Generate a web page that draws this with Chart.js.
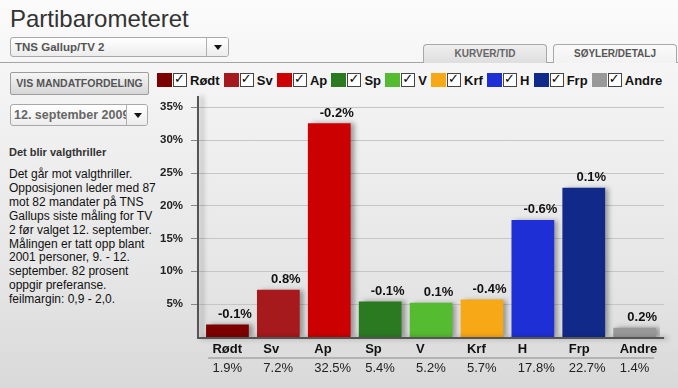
<!DOCTYPE html>
<html>
<head>
<meta charset="utf-8">
<script src="https://cdn.jsdelivr.net/npm/chart.js@4"></script>
<style>
  html, body { margin: 0; padding: 0; }
  body {
    width: 678px; height: 388px; overflow: hidden; position: relative;
    font-family: 'Liberation Sans', Arial, sans-serif;
    background: linear-gradient(#fbfbfb 0%, #f1f1f1 30%, #e6e6e6 70%, #d9d9d9 100%);
  }
  .abs { position: absolute; }
  h1 { margin: 0; left: 10px; top: 5px; font-size: 24px; line-height: 28px; font-weight: normal; color: #333; }
  .select {
    box-sizing: border-box; border: 1px solid #a8a8a8; border-radius: 3px;
    background: linear-gradient(#ffffff, #ececec); overflow: hidden;
    font-weight: bold; color: #555; white-space: nowrap;
  }
  .select .arrow {
    position: absolute; right: 0; top: 0; bottom: 0; width: 21px;
    border-left: 1px solid #b0b0b0; background: linear-gradient(#ffffff, #ececec);
  }
  .select .arrow::after {
    content: ''; position: absolute; left: 7px; top: 50%; margin-top: -2px;
    border-left: 4px solid transparent; border-right: 4px solid transparent; border-top: 5px solid #111;
  }
  .rule { left: 0; top: 62px; width: 678px; height: 1px; background: #a4a4a4; }
  .tab {
    box-sizing: border-box; height: 19px; border: 1px solid #a8a8a8; border-bottom: none;
    border-radius: 4px 4px 0 0; text-align: center; line-height: 18px;
    font-size: 10px; font-weight: bold; color: #666;
  }
  .btn {
    box-sizing: border-box; left: 10px; top: 72px; width: 139px; height: 23px;
    border: 1px solid #9c9c9c; border-radius: 2px; background: linear-gradient(#f6f6f6, #d6d6d6);
    font-size: 10.5px; font-weight: bold; color: #555; text-align: center; line-height: 21px;
  }
  .legend { left: 157px; top: 73px; display: flex; align-items: center; height: 14px; }
  .legend .sw { width: 15px; height: 14px; margin-right: 1px; }
  .legend .cb {
    box-sizing: border-box; width: 14px; height: 14px; border: 1px solid #444; background: #fff;
    margin-right: 3px; position: relative;
  }
  .legend .cb::after {
    content: '\2713'; position: absolute; left: 0px; top: -2px;
    font: bold 13px 'DejaVu Sans', sans-serif; color: #000; line-height: 14px;
  }
  .legend .nm { font-size: 13px; font-weight: bold; color: #111; margin-right: 4.2px; }
  .headline { left: 9px; top: 146px; font-size: 11px; font-weight: bold; color: #333; }
  .text { left: 9px; top: 168px; font-size: 12px; line-height: 13.9px; color: #111; }
  #wrap { left: 150px; top: 90px; width: 528px; height: 298px; }
</style>
</head>
<body>
<h1 class="abs">Partibarometeret</h1>
<div class="abs select" style="left:10px;top:37px;width:219px;height:20px;font-size:11.5px;line-height:18px;padding-left:4px;">
  TNS Gallup/TV 2<span class="arrow"></span>
</div>
<div class="abs rule"></div>
<div class="abs tab" style="left:423px;top:44px;width:124px;background:linear-gradient(#efefef,#dedede);">KURVER/TID</div>
<div class="abs tab" style="left:553px;top:44px;width:124px;background:linear-gradient(#fafafa,#f2f2f2);color:#555;">SØYLER/DETALJ</div>

<div class="abs btn">VIS MANDATFORDELING</div>
<div class="abs select" style="left:10px;top:104px;width:138px;height:22px;font-size:12.5px;line-height:20px;padding-left:3px;color:#666;">
  12. september 2009<span class="arrow" style="width:20px;"></span>
</div>

<div class="abs legend" id="legend"></div>

<div class="abs headline">Det blir valgthriller</div>
<div class="abs text">Det går mot valgthriller.<br>Opposisjonen leder med 87<br>mot 82 mandater på TNS<br>Gallups siste måling for TV<br>2 før valget 12. september.<br>Målingen er tatt opp blant<br>2001 personer, 9. - 12.<br>september. 82 prosent<br>oppgir preferanse.<br>feilmargin: 0,9 - 2,0.</div>

<div class="abs" id="wrap"><canvas id="chart" width="528" height="298"></canvas></div>

<script>
const PARTIES = ['Rødt', 'Sv', 'Ap', 'Sp', 'V', 'Krf', 'H', 'Frp', 'Andre'];
const SHARES  = [1.9, 7.2, 32.5, 5.4, 5.2, 5.7, 17.8, 22.7, 1.4];
const CHANGES = ['-0.1', '0.8', '-0.2', '-0.1', '0.1', '-0.4', '-0.6', '0.1', '0.2'];
const COLORS  = ['#7d0000', '#a6191d', '#cc0000', '#2b7a22', '#55bb30', '#f6a816', '#1f2fd6', '#112a8a', '#999999'];
const Y_TICKS = [5, 10, 15, 20, 25, 30, 35];

const FONT = "'Liberation Sans', Arial, sans-serif";
const AXIS_OUT = 4;   // axis lines reach a little past the bar area

// legend with checkboxes
const legend = document.getElementById('legend');
PARTIES.forEach((p, i) => {
  legend.insertAdjacentHTML('beforeend',
    `<span class="sw" style="background:${COLORS[i]}"></span><span class="cb"></span><span class="nm">${p}</span>`);
});

const fmt = v => v.toFixed(1) + '%';

// grid lines, tick marks and axes
const frame = {
  id: 'frame',
  beforeDatasetsDraw(chart) {
    const c = chart.ctx, a = chart.chartArea, y = chart.scales.y;
    const l = a.left - AXIS_OUT, r = a.right + AXIS_OUT;
    c.save();
    c.lineWidth = 1;
    Y_TICKS.forEach(v => {
      const py = Math.round(y.getPixelForValue(v)) + 0.5;
      c.strokeStyle = '#c6c6c6';
      c.beginPath(); c.moveTo(l, py); c.lineTo(r, py); c.stroke();
      c.strokeStyle = '#888';
      c.beginPath(); c.moveTo(l - 7, py); c.lineTo(l, py); c.stroke();
    });
    c.restore();
  },
  afterDatasetsDraw(chart) {
    const c = chart.ctx, a = chart.chartArea;
    const l = a.left - AXIS_OUT, r = a.right + AXIS_OUT;
    c.save();
    c.strokeStyle = '#555';
    c.lineWidth = 2;
    c.beginPath();
    c.moveTo(l, a.top - 1); c.lineTo(l, a.bottom + 1); c.lineTo(r, a.bottom + 1);
    c.stroke();
    c.restore();
  },
};

// soft shadow on the right of each bar
const barShadow = {
  id: 'barShadow',
  beforeDatasetsDraw(chart) {
    const c = chart.ctx;
    c.save();
    c.shadowColor = 'rgba(0,0,0,0.35)';
    c.shadowOffsetX = 4;
    c.shadowOffsetY = 0;
    c.shadowBlur = 5;
  },
  afterDatasetsDraw(chart) { chart.ctx.restore(); },
};

// change labels above bars + value row under the party names
const barTexts = {
  id: 'barTexts',
  afterDatasetsDraw(chart) {
    const c = chart.ctx;
    const bars = chart.getDatasetMeta(0).data;
    c.save();
    c.textAlign = 'center';
    c.textBaseline = 'middle';
    c.font = 'bold 13px ' + FONT;
    c.fillStyle = '#111';
    bars.forEach((b, i) => c.fillText(CHANGES[i] + '%', b.x + 7.5, b.y - 10));

    const first = bars[0], last = bars[bars.length - 1];
    const y0 = chart.chartArea.bottom;
    c.strokeStyle = '#8a8a8a';
    c.lineWidth = 1;
    c.beginPath();
    c.moveTo(first.x - first.width / 2 + 2, y0 + 21);
    c.lineTo(last.x + last.width / 2 - 2, y0 + 21);
    c.stroke();

    c.textAlign = 'left';
    c.font = '13px ' + FONT;
    c.fillStyle = '#222';
    bars.forEach((b, i) => c.fillText(fmt(SHARES[i]), b.x - 15, y0 + 31));
    c.restore();
  },
};

new Chart(document.getElementById('chart'), {
  type: 'bar',
  data: {
    labels: PARTIES,
    datasets: [{
      data: SHARES,
      backgroundColor: COLORS,
      borderWidth: 0,
      barPercentage: 0.84,
      categoryPercentage: 1,
    }],
  },
  options: {
    responsive: false, animation: false,
    layout: { padding: { top: 0, right: 14, left: 0, bottom: 0 } },
    plugins: { legend: { display: false }, tooltip: { enabled: false } },
    scales: {
      x: {
        offset: true,
        grid: { display: false, drawTicks: false },
        border: { display: false },
        ticks: {
          color: '#111', font: { family: FONT, size: 13, weight: 'bold' },
          align: 'start', labelOffset: -15, padding: 5, maxRotation: 0,
        },
        afterFit: s => { s.height = 51; },
      },
      y: {
        min: 0, max: 36.5,
        afterBuildTicks: s => { s.ticks = Y_TICKS.map(v => ({ value: v })); },
        // tick marks are drawn by the frame plugin; tickLength only spaces the labels
        grid: { display: false, drawTicks: true, tickLength: 19 },
        border: { display: false },
        ticks: {
          color: '#222', font: { family: FONT, size: 11.5, weight: 'bold' }, padding: 0,
          callback: v => v + '%',
        },
        afterFit: s => { s.width = 52; },
      },
    },
  },
  plugins: [frame, barShadow, barTexts],
});
</script>
</body>
</html>
